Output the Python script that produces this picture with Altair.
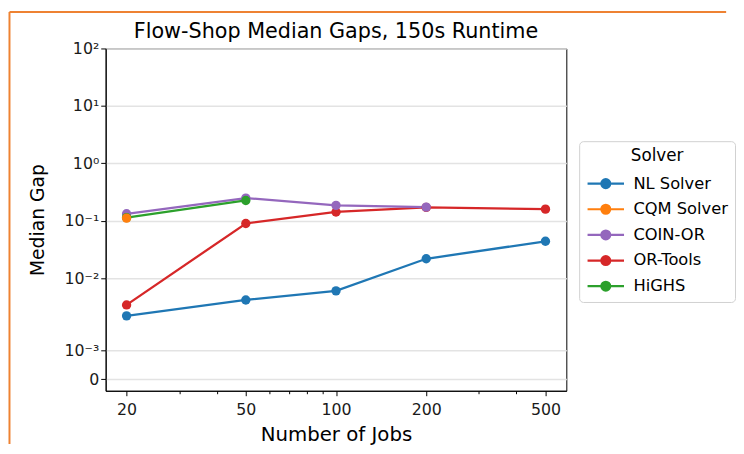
import math
import altair as alt
import pandas as pd

# ---------------- data ----------------
solvers = ["NL Solver", "CQM Solver", "COIN-OR", "OR-Tools", "HiGHS"]
colors = ["#1f77b4", "#ff7f0e", "#9467bd", "#d62728", "#2ca02c"]

jobs = [20, 50, 100, 200, 500]
nl_gap = [0.00223, 0.00416, 0.0060, 0.0217, 0.0438]
ortools_gap = [0.00341, 0.0895, 0.142, 0.1705, 0.159]
coin_jobs = [20, 50, 100, 200]
coin_gap = [0.132, 0.248, 0.185, 0.1725]
highs_jobs = [20, 50]
highs_gap = [0.113, 0.225]
cqm_jobs = [20]
cqm_gap = [0.111]

x_major = [20, 50, 100, 200, 500]
x_minor = [30, 40, 60, 70, 80, 90, 300, 400]
y_tick_values = [0, 1e-3, 1e-2, 1e-1, 1, 10, 100]
y_tick_labels = ["0", "10⁻³", "10⁻²", "10⁻¹", "10⁰", "10¹", "10²"]

# ---------------- table (drawing order: bottom -> top) ----------------
rows = []
def add(name, xs, ys):
    for x, y in zip(xs, ys):
        rows.append({"solver": name, "jobs": x, "gap": y})

add("NL Solver", jobs, nl_gap)
add("OR-Tools", jobs, ortools_gap)
add("COIN-OR", coin_jobs, coin_gap)
add("HiGHS", highs_jobs, highs_gap)
add("CQM Solver", cqm_jobs, cqm_gap)
df = pd.DataFrame(rows)

# symmetric-log axis (matplotlib style: linthresh, linscale=1, base 10)
LIN = 2.25e-3
LSC = 1.0 / (1.0 - 1.0 / 10.0)

def symlog(v):
    return v * LSC / LIN if v <= LIN else LSC + math.log10(v / LIN)

y_ticks = [symlog(v) for v in y_tick_values]
PLOT_W, PLOT_H = 467, 347
y_top = y_ticks[-1]
y_bottom = y_top - PLOT_H / 58.2

ylab = "'" + y_tick_labels[-1] + "'"
for i in range(len(y_ticks) - 2, -1, -1):
    mid = (y_ticks[i] + y_ticks[i + 1]) / 2
    ylab = f"datum.value < {mid:.5f} ? '{y_tick_labels[i]}' : ({ylab})"

major_test = "indexof([" + ",".join(str(v) for v in x_major) + "], datum.value) >= 0"

FONT = "DejaVu Sans"
ORANGE = "#ee8232"

x_enc = alt.X(
    "jobs:Q",
    title="Number of Jobs",
    scale=alt.Scale(type="log", domain=[17.03, 587], nice=False),
    axis=alt.Axis(
        values=sorted(x_major + x_minor),
        format="d",
        labelExpr=f"{major_test} ? datum.label : ''",
        tickSize={"condition": {"test": major_test, "value": 5}, "value": 3},
        labelOverlap=False,
        labelFlush=False,
        grid=False,
        domainColor="#000000",
        tickColor="#000000",
        tickWidth=1,
        labelFontSize=16,
        labelColor="#1a1a1a",
        labelPadding=6,
        titleFontSize=20,
        titleFontWeight="normal",
        titleColor="#000000",
        titleY=44,
        titleBaseline="middle",
    ),
)

y_enc = alt.Y(
    "t:Q",
    title="Median Gap",
    scale=alt.Scale(domain=[y_bottom, y_top], nice=False, zero=False),
    axis=alt.Axis(
        values=y_ticks,
        labelExpr=ylab,
        labelOverlap=False,
        labelFlush=False,
        grid=True,
        gridColor="#e3e3e3",
        gridWidth=1.5,
        domainColor="#000000",
        tickColor="#000000",
        tickSize=5,
        labelFontSize=16,
        labelColor="#1a1a1a",
        labelPadding=2,
        titleFontSize=19,
        titleFontWeight="normal",
        titleColor="#000000",
        titleX=-69,
        titleBaseline="middle",
    ),
)

legend_symbol = (
    "M-1.6,0L1.6,0M-0.39,0A0.39,0.39 0 1,1 0.39,0A0.39,0.39 0 1,1 -0.39,0Z"
)

color_enc = alt.Color(
    "solver:N",
    scale=alt.Scale(domain=solvers, range=colors),
    legend=alt.Legend(
        title="Solver",
        orient="none",
        legendX=480,
        legendY=94,
        titleAnchor="middle",
        titleFontSize=17,
        titleFontWeight="normal",
        titleColor="#000000",
        titlePadding=6,
        labelFontSize=16.5,
        labelColor="#000000",
        symbolType=legend_symbol,
        symbolSize=534,
        symbolStrokeWidth=2.2,
        symbolOffset=7,
        labelOffset=15,
        rowPadding=4,
        padding=7,
        strokeColor="#d0d0d0",
        cornerRadius=4,
        fillColor="#ffffff",
    ),
)

base = alt.Chart(df).transform_calculate(
    t=f"datum.gap <= {LIN} ? datum.gap * {LSC} / {LIN} : {LSC} + log(datum.gap / {LIN}) / LN10"
)

lines = base.mark_line(strokeWidth=2.3).encode(
    x=x_enc, y=y_enc, color=color_enc, detail="solver:N"
)
points = base.mark_circle(size=90, opacity=1).encode(
    x=x_enc, y=y_enc, color=color_enc
)

frame_data = alt.Data(values=[{"k": 0}])
left_rule = alt.Chart(frame_data).mark_rule(color=ORANGE, strokeWidth=2).encode(
    x=alt.value(-97.5), y=alt.value(-37), y2=alt.value(401)
)
top_rule = alt.Chart(frame_data).mark_rule(color=ORANGE, strokeWidth=2).encode(
    x=alt.value(-97.5), x2=alt.value(629), y=alt.value(-37)
)

chart = (
    alt.layer(left_rule, top_rule, lines, points)
    .properties(
        width=PLOT_W,
        height=PLOT_H,
        padding=0,
        title=alt.TitleParams(
            "Flow-Shop Median Gaps, 150s Runtime",
            fontSize=21,
            fontWeight="normal",
            color="#000000",
            anchor="middle",
            baseline="alphabetic",
            offset=-48.75,
        ),
    )
    .configure(font=FONT, background="#ffffff")
    .configure_view(stroke="#000000", strokeWidth=1)
)

chart.save("out.html", embed_options={"renderer": "svg", "actions": False})
